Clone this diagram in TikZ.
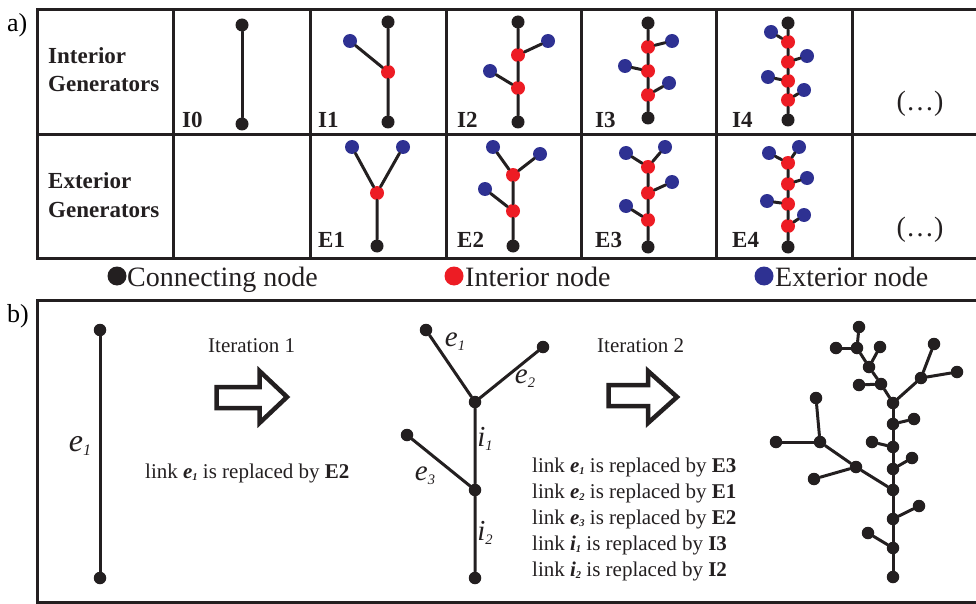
\documentclass[tikz,border=0pt]{standalone}
\usepackage{fontspec}
\setmainfont{Liberation Serif}
\usepackage{graphicx}
\definecolor{cblack}{HTML}{231F20}
\definecolor{cred}{HTML}{ED1C24}
\definecolor{cblue}{HTML}{2E3192}
\newcommand\sbs[2]{\textit{#1}\raisebox{-0.14em}{\scalebox{0.5}{\textit{#2}}}}
\begin{document}
\begin{tikzpicture}[x=1pt,y=-1pt,
 grid/.style={line width=3pt,draw=cblack},
 edge/.style={line width=3pt,draw=cblack,line cap=round},
 cn/.style={circle,fill=cblack,inner sep=0,minimum size=13pt},
 inn/.style={circle,fill=cred,inner sep=0,minimum size=14pt},
 exn/.style={circle,fill=cblue,inner sep=0,minimum size=14pt},
 tn/.style={circle,fill=cblack,inner sep=0,minimum size=12.5pt},
 glab/.style={font=\fontsize{23}{23}\selectfont\bfseries,anchor=base west,inner sep=0,text=cblack},
 hdr/.style={font=\fontsize{23}{23}\selectfont\bfseries,anchor=base west,inner sep=0,text=cblack},
 dots/.style={font=\fontsize{28}{28}\selectfont,inner sep=0,text=cblack},
 leg/.style={font=\fontsize{28}{28}\selectfont,anchor=base west,inner sep=0,text=cblack},
 legdot/.style={circle,inner sep=0,minimum size=19pt},
 txt/.style={font=\fontsize{21}{21}\selectfont,anchor=base west,inner sep=0,text=cblack},
 tlab/.style={font=\fontsize{29}{29}\selectfont,inner sep=0,text=cblack},
 blockarrow/.style={line width=4.5pt,draw=cblack,fill=white,line join=miter}
]
\useasboundingbox (0,0) rectangle (976,604);
\clip (0,0) rectangle (976,604);

% ---------- part a) table ----------
\node[font=\fontsize{26}{26}\selectfont,anchor=base west,inner sep=0] (la) at (7,32) {a)};
\draw[grid] (37,10) -- (990,10);
\draw[grid] (37,135) -- (990,135);
\draw[grid] (37,258) -- (990,258);
\foreach \x in {37,173,310,446,581,716,852} \draw[grid] (\x,8.5) -- (\x,259.5);

\node[hdr] (h1) at (48,64) {Interior};
\node[hdr] (h2) at (48,92) {Generators};
\node[hdr] (h3) at (48,188) {Exterior};
\node[hdr] (h4) at (48,217) {Generators};

% I0
\node[cn] (i0a) at (242,25) {};
\node[cn] (i0b) at (242,124) {};
\draw[edge] (i0a) -- (i0b);
\node[glab] (li0) at (182,128) {I0};

% I1
\node[cn] (i1a) at (388,22) {};
\node[inn] (i1b) at (388,72) {};
\node[exn] (i1c) at (350,41) {};
\node[cn] (i1d) at (388,122) {};
\draw[edge] (i1a) -- (i1b) (i1b) -- (i1d) (i1b) -- (i1c);
\node[glab] (li1) at (318,128) {I1};

% I2
\node[cn] (i2a) at (518,22) {};
\node[inn] (i2b) at (518,55) {};
\node[exn] (i2c) at (548,41) {};
\node[inn] (i2d) at (518,88) {};
\node[exn] (i2e) at (490,71) {};
\node[cn] (i2f) at (518,122) {};
\draw[edge] (i2a) -- (i2b) (i2b) -- (i2d) (i2d) -- (i2f) (i2b) -- (i2c) (i2d) -- (i2e);
\node[glab] (li2) at (457,128) {I2};

% I3
\node[cn] (i3a) at (648,23) {};
\node[inn] (i3b) at (648,47) {};
\node[exn] (i3c) at (672,41) {};
\node[inn] (i3d) at (648,71) {};
\node[exn] (i3e) at (625,66) {};
\node[inn] (i3f) at (648,95) {};
\node[exn] (i3g) at (669,83) {};
\node[cn] (i3h) at (648,118) {};
\draw[edge] (i3a) -- (i3b) (i3b) -- (i3d) (i3d) -- (i3f) (i3f) -- (i3h)
  (i3b) -- (i3c) (i3d) -- (i3e) (i3f) -- (i3g);
\node[glab] (li3) at (595,128) {I3};

% I4
\node[cn] (i4a) at (788,23) {};
\node[inn] (i4b) at (788,42) {};
\node[exn] (i4c) at (771,32) {};
\node[inn] (i4d) at (788,62) {};
\node[exn] (i4e) at (807,56) {};
\node[inn] (i4f) at (788,81) {};
\node[exn] (i4g) at (768,77) {};
\node[inn] (i4h) at (788,100) {};
\node[exn] (i4k) at (804,90) {};
\node[cn] (i4m) at (788,120) {};
\draw[edge] (i4a) -- (i4b) (i4b) -- (i4d) (i4d) -- (i4f) (i4f) -- (i4h) (i4h) -- (i4m)
  (i4b) -- (i4c) (i4d) -- (i4e) (i4f) -- (i4g) (i4h) -- (i4k);
\node[glab] (li4) at (732,128) {I4};

\node[dots] (d1) at (920,104) {(…)};

% E1
\node[exn] (e1a) at (352,147) {};
\node[exn] (e1b) at (403,147) {};
\node[inn] (e1c) at (377,193) {};
\node[cn] (e1d) at (377,246) {};
\draw[edge] (e1a) -- (e1c) (e1b) -- (e1c) (e1c) -- (e1d);
\node[glab] (le1) at (318,247) {E1};

% E2
\node[exn] (e2a) at (493,147) {};
\node[exn] (e2b) at (540,154) {};
\node[inn] (e2c) at (513,175) {};
\node[exn] (e2d) at (485,189) {};
\node[inn] (e2e) at (513,211) {};
\node[cn] (e2f) at (513,246) {};
\draw[edge] (e2a) -- (e2c) (e2b) -- (e2c) (e2c) -- (e2e) (e2d) -- (e2e) (e2e) -- (e2f);
\node[glab] (le2) at (457,247) {E2};

% E3
\node[exn] (e3a) at (626,153) {};
\node[exn] (e3b) at (665,147) {};
\node[inn] (e3c) at (648,167) {};
\node[exn] (e3d) at (672,182) {};
\node[inn] (e3e) at (648,193) {};
\node[exn] (e3f) at (626,206) {};
\node[inn] (e3g) at (648,220) {};
\node[cn] (e3h) at (648,247) {};
\draw[edge] (e3a) -- (e3c) (e3b) -- (e3c) (e3c) -- (e3e) (e3e) -- (e3d)
  (e3e) -- (e3g) (e3g) -- (e3f) (e3g) -- (e3h);
\node[glab] (le3) at (595,247) {E3};

% E4
\node[exn] (e4a) at (769,153) {};
\node[exn] (e4b) at (799,147) {};
\node[inn] (e4c) at (788,163) {};
\node[exn] (e4d) at (807,178) {};
\node[inn] (e4e) at (788,184) {};
\node[exn] (e4f) at (767,201) {};
\node[inn] (e4g) at (788,204) {};
\node[exn] (e4k) at (804,215) {};
\node[inn] (e4m) at (788,226) {};
\node[cn] (e4n) at (788,247) {};
\draw[edge] (e4a) -- (e4c) (e4b) -- (e4c) (e4c) -- (e4e) (e4e) -- (e4d)
  (e4e) -- (e4g) (e4g) -- (e4f) (e4g) -- (e4m) (e4m) -- (e4k) (e4m) -- (e4n);
\node[glab] (le4) at (732,247) {E4};

\node[dots] (d2) at (920,230) {(…)};

% legend
\node[legdot,fill=cblack] (lg1) at (117,276) {};
\node[leg] (lt1) at (127,286) {Connecting node};
\node[legdot,fill=cred] (lg2) at (454,276) {};
\node[leg] (lt2) at (465,286) {Interior node};
\node[legdot,fill=cblue] (lg3) at (764,276) {};
\node[leg] (lt3) at (775,286) {Exterior node};

% ---------- part b) ----------
\node[font=\fontsize{26}{26}\selectfont,anchor=base west,inner sep=0] (lb) at (7,322) {b)};
\draw[grid] (990,300) -- (37,300) -- (37,602) -- (990,602);

% iteration 0
\node[tn] (z1) at (100,330) {};
\node[tn] (z2) at (100,578) {};
\draw[edge] (z1) -- (z2);
\node[tlab,font=\fontsize{32}{32}\selectfont] (ze1) at (80,446) {\sbs{e}{1}};

% arrow 1
\draw[blockarrow] (216.5,387) -- (259.5,387) -- (259.5,371) -- (287,397) -- (259.5,423) -- (259.5,408) -- (216.5,408) -- cycle;
\node[txt] (it1) at (208,352) {Iteration 1};
\node[txt] (rp1) at (145,478) {link \textbf{\sbs{e}{1}} is replaced by \textbf{E2}};

% middle tree
\node[tn] (m1) at (475,402) {};
\node[tn] (m2) at (426,330) {};
\node[tn] (m3) at (543,347) {};
\node[tn] (m4) at (475,490) {};
\node[tn] (m5) at (407,435) {};
\node[tn] (m6) at (475,578) {};
\draw[edge] (m2) -- (m1) (m3) -- (m1) (m1) -- (m4) (m5) -- (m4) (m4) -- (m6);
\node[tlab] (me1) at (455,342) {\sbs{e}{1}};
\node[tlab] (me2) at (525,379) {\sbs{e}{2}};
\node[tlab] (me3) at (425,476) {\sbs{e}{3}};
\node[tlab] (mi1) at (485,439) {\sbs{i}{1}};
\node[tlab] (mi2) at (485,533) {\sbs{i}{2}};

% arrow 2
\draw[blockarrow] (608.5,385) -- (648,385) -- (648,371) -- (677,397) -- (648,423) -- (648,406) -- (608.5,406) -- cycle;
\node[txt] (it2) at (597,352) {Iteration 2};
\node[txt] (rq1) at (532,472) {link \textbf{\sbs{e}{1}} is replaced by \textbf{E3}};
\node[txt] (rq2) at (532,498) {link \textbf{\sbs{e}{2}} is replaced by \textbf{E1}};
\node[txt] (rq3) at (532,524) {link \textbf{\sbs{e}{3}} is replaced by \textbf{E2}};
\node[txt] (rq4) at (532,550) {link \textbf{\sbs{i}{1}} is replaced by \textbf{I3}};
\node[txt] (rq5) at (532,576) {link \textbf{\sbs{i}{2}} is replaced by \textbf{I2}};

% iteration 2 tree
\foreach \n/\x/\y in {1/893/577,2/893/548,3/868/533,4/893/519,5/919/506,6/893/490,
  7/893/469,8/912/458,9/893/447,10/872/442,11/893/424,12/914/419,13/893/403,
  14/881/384,15/859/385,16/869/367,17/880/347,18/857/348,19/836/348,20/859/327,
  21/921/378,22/934/344,23/957/372,24/856/467,25/814/479,26/820/442,27/776/442,28/816/398}
  \node[tn] (t\n) at (\x,\y) {};
\foreach \a/\b in {1/2,2/4,4/6,6/7,7/9,9/11,11/13,2/3,4/5,7/8,9/10,11/12,
  13/14,14/16,16/18,18/20,18/19,16/17,14/15,13/21,21/22,21/23,
  6/24,24/26,24/25,26/27,26/28}
  \draw[edge] (t\a) -- (t\b);
\end{tikzpicture}
\end{document}
